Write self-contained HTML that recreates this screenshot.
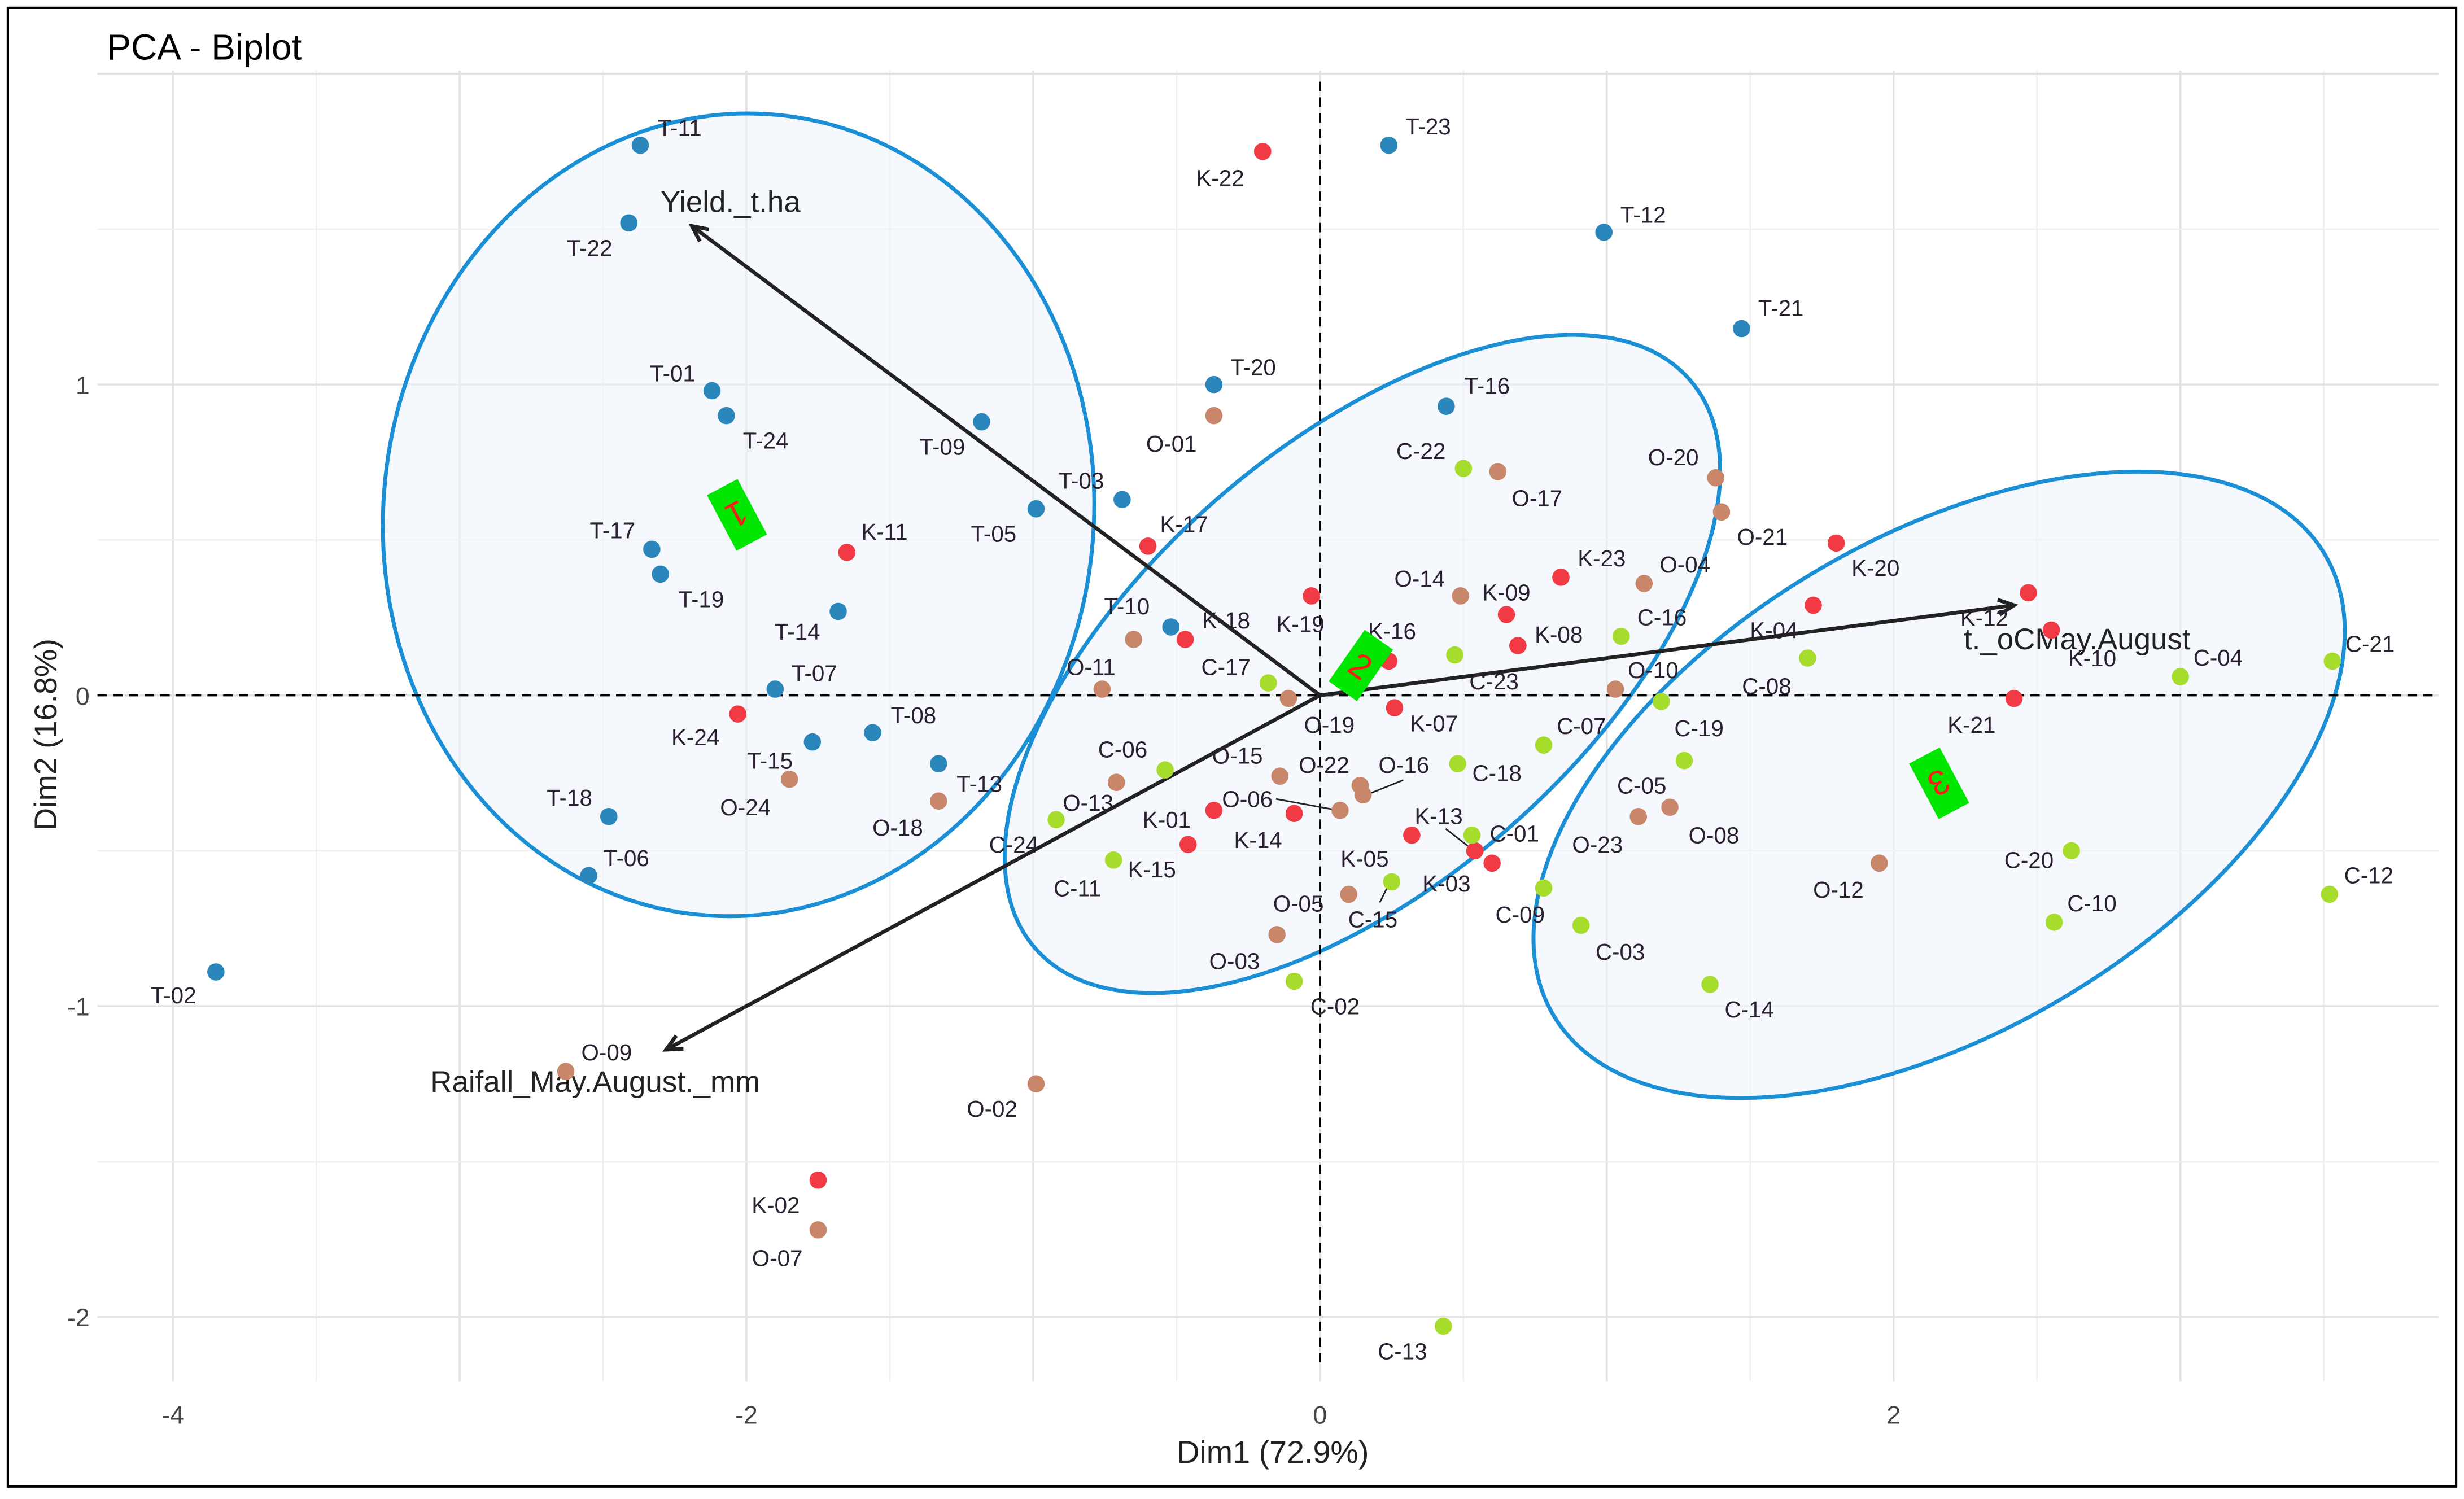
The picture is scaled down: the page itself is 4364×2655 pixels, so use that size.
<!DOCTYPE html>
<html><head><meta charset="utf-8"><style>
html,body{margin:0;padding:0;background:#fff;}
svg{display:block;}
text{font-family:"Liberation Sans",sans-serif;}
</style></head><body>
<svg id="chart" xmlns="http://www.w3.org/2000/svg" width="4364" height="2655" viewBox="0 0 1568 955" preserveAspectRatio="none">
<rect x="0" y="0" width="1568" height="955" fill="#fff"/>
<rect x="5" y="5" width="1558" height="942" fill="none" stroke="#000" stroke-width="1.5"/>
<g id="grid"></g>
<g id="ellipses"></g>
<g id="zero"></g>
<g id="arrows"></g>
<g id="points"></g>
<g id="boxes"></g>
<g id="axes"></g>
<text x="68" y="38" font-size="23" fill="#000">PCA - Biplot</text>
<text x="810" y="932" font-size="20" text-anchor="middle" fill="#222">Dim1 (72.9%)</text>
<text transform="translate(36,468) rotate(-90)" font-size="20" text-anchor="middle" fill="#222">Dim2 (16.8%)</text>
</svg>
<script>
const NS="http://www.w3.org/2000/svg";
// data
const tLabels=["T-11","T-22","T-01","T-24","T-09","T-03","T-05","T-17","T-19","T-14","T-07","T-08","T-15","T-13","T-18","T-06","T-02","T-20","T-23","T-12","T-21","T-16","T-10"];
const tX=[-2.37,-2.41,-2.12,-2.07,-1.18,-0.69,-0.99,-2.33,-2.30,-1.68,-1.90,-1.56,-1.77,-1.33,-2.48,-2.55,-3.85,-0.37,0.24,0.99,1.47,0.44,-0.52];
const tY=[1.77,1.52,0.98,0.90,0.88,0.63,0.60,0.47,0.39,0.27,0.02,-0.12,-0.15,-0.22,-0.39,-0.58,-0.89,1.00,1.77,1.49,1.18,0.93,0.22];
const kLabels=["K-22","K-11","K-17","K-24","K-18","K-19","K-16","K-07","K-09","K-08","K-23","K-20","K-04","K-12","K-10","K-21","K-13","K-03","K-05","K-14","K-01","K-15","K-02"];
const kX=[-0.20,-1.65,-0.60,-2.03,-0.47,-0.03,0.24,0.26,0.65,0.69,0.84,1.80,1.72,2.47,2.55,2.42,0.54,0.60,0.32,-0.09,-0.37,-0.46,-1.75];
const kY=[1.75,0.46,0.48,-0.06,0.18,0.32,0.11,-0.04,0.26,0.16,0.38,0.49,0.29,0.33,0.21,-0.01,-0.50,-0.54,-0.45,-0.38,-0.37,-0.48,-1.56];
const oLabels=["O-01","O-17","O-20","O-21","O-14","O-04","O-10","O-11","O-15","O-19","O-22","O-16","O-06","O-24","O-18","O-23","O-08","O-05","O-03","O-12","O-09","O-02","O-07","O-13",""];
const oX=[-0.37,0.62,1.38,1.40,0.49,1.13,1.03,-0.76,-0.14,-0.11,0.14,0.15,0.07,-1.85,-1.33,1.11,1.22,0.10,-0.15,1.95,-2.63,-0.99,-1.75,-0.71,-0.65];
const oY=[0.90,0.72,0.70,0.59,0.32,0.36,0.02,0.02,-0.26,-0.01,-0.29,-0.32,-0.37,-0.27,-0.34,-0.39,-0.36,-0.64,-0.77,-0.54,-1.21,-1.25,-1.72,-0.28,0.18];
const cLabels=["C-22","C-17","C-16","C-23","C-07","C-18","C-19","C-08","C-06","C-24","C-11","C-01","C-15","C-05","C-09","C-03","C-14","C-02","C-20","C-10","C-04","C-21","C-12","C-13"];
const cX=[0.50,-0.18,1.05,0.47,0.78,0.48,1.19,1.70,-0.54,-0.92,-0.72,0.53,0.25,1.27,0.78,0.91,1.36,-0.09,2.62,2.56,3.00,3.53,3.52,0.43];
const cY=[0.73,0.04,0.19,0.13,-0.16,-0.22,-0.02,0.12,-0.24,-0.40,-0.53,-0.45,-0.60,-0.21,-0.62,-0.74,-0.93,-0.92,-0.50,-0.73,0.06,0.11,-0.64,-2.03];
const varNames=["Yield._t.ha","Raifall_May.August._mm","t._oCMay.August"];
const varX=[-2.19,-2.28,2.42];
const varY=[1.51,-1.14,0.29];
const xTicks=[-4,-2,0,2];
const yTicks=[1,0,-1,-2];
// label offsets (styling, px)
const tOff=[[25,-11],[-25,16],[-25,-11],[25,16],[-25,16],[-26,-12],[-27,16],[-25,-12],[26,16],[-26,13],[25,-10],[26,-11],[-27,12],[26,13],[-25,-12],[24,-11],[-27,15],[25,-11],[25,-12],[25,-11],[25,-13],[26,-13],[-28,-13]];
const kOff=[[-27,17],[24,-13],[23,-14],[-27,15],[26,-12],[-7,18],[2,-19],[25,10],[0,-14],[26,-7],[26,-12],[25,16],[-25,16],[-28,16],[26,18],[-27,17],[-23,-22],[-29,13],[-30,15],[-23,17],[-30,6],[-23,16],[-27,16]];
const oOff=[[-27,18],[25,17],[-27,-13],[26,16],[-26,-11],[26,-12],[24,-12],[-7,-14],[-27,-13],[26,17],[-23,-13],[26,-19],[-59,-7],[-28,18],[-26,17],[-26,18],[28,18],[-32,6],[-27,17],[-26,17],[26,-12],[-28,16],[-26,18],[-18,13],[0,0]];
const cOff=[[-27,-11],[-27,-10],[26,-12],[25,17],[24,-12],[25,6],[24,17],[-26,18],[-27,-13],[-27,16],[-23,18],[27,-1],[-12,24],[-27,16],[-15,17],[25,17],[25,16],[26,16],[-27,6],[24,-12],[24,-12],[24,-11],[25,-12],[-26,16]];

const X0=840, XS=182.5, Y0=443, YS=198;
const sx=v=>X0+v*XS, sy=v=>Y0-v*YS;
const L=62, R=1552, T=45, B=880;
function mk(tag,attrs,parent){const e=document.createElementNS(NS,tag);for(const k in attrs)e.setAttribute(k,attrs[k]);parent.appendChild(e);return e;}
const g=id=>document.getElementById(id);

// grid
for(let v=-4;v<=3.5;v+=0.5){if(sx(v)<L||sx(v)>R)continue;const major=Number.isInteger(v);
 const ln=mk("line",{x1:sx(v),x2:sx(v),y1:T,y2:B,stroke:major?"#e2e2e2":"#efefef","stroke-width":major?1.3:0.9},g("grid"));
 
 }
for(let v=-2;v<=2;v+=0.5){if(sy(v)<T||sy(v)>B)continue;const major=Number.isInteger(v);
 const ln=mk("line",{x1:L,x2:R,y1:sy(v),y2:sy(v),stroke:major?"#e2e2e2":"#efefef","stroke-width":major?1.3:0.9},g("grid"));
 
 }

// ellipses
const ells=[[470,328,226,256,6,"cluster-1-ellipse"],[867,423,276,140,-41,"cluster-2-ellipse"],[1234,500,286,157,-31,"cluster-3-ellipse"]];
ells.forEach(e=>{const el=mk("ellipse",{cx:e[0],cy:e[1],rx:e[2],ry:e[3],transform:`rotate(${e[4]} ${e[0]} ${e[1]})`,fill:"#eef4fa","fill-opacity":0.6,stroke:"#1a8fd6","stroke-width":2.5},g("ellipses"));
 
 });

// zero lines
let z=mk("line",{x1:L,x2:R,y1:sy(0),y2:sy(0),stroke:"#000","stroke-width":1.3,"stroke-dasharray":"6,4"},g("zero"));


z=mk("line",{x1:sx(0),x2:sx(0),y1:52,y2:870,stroke:"#000","stroke-width":1.3,"stroke-dasharray":"6,4"},g("zero"));



// arrows
const ag=g("arrows");
varNames.forEach((n,i)=>{const x2=sx(varX[i]),y2=sy(varY[i]);
 const ln=mk("line",{x1:sx(0),y1:sy(0),x2:x2,y2:y2,stroke:"#222","stroke-width":2.4},ag);
 
 
 const a=Math.atan2(y2-sy(0),x2-sx(0));const h=11;
 const p=`M${x2-h*Math.cos(a-0.45)},${y2-h*Math.sin(a-0.45)} L${x2},${y2} L${x2-h*Math.cos(a+0.45)},${y2-h*Math.sin(a+0.45)}`;
 const hd=mk("path",{d:p,fill:"none",stroke:"#222","stroke-width":2.4},ag);
 
 
 const off=[[-20,-9],[-150,27],[-32,28]][i];
 const t=mk("text",{x:x2+off[0],y:y2+off[1],"font-size":19,fill:"#222"},ag);t.textContent=n;
 
 });

// leader lines
[[812,509,850,516],[920,528,938,542],[878,575,885,561],[893,497,868,507]].forEach(l=>{const ln=mk("line",{x1:l[0],y1:l[1],x2:l[2],y2:l[3],stroke:"#222","stroke-width":1},g("points"));
 
 });

// points
function series(labels,xs,ys,offs,color,name){
 labels.forEach((lab,i)=>{const px=sx(xs[i]),py=sy(ys[i]);
  const c=mk("circle",{cx:px,cy:py,r:5.5,fill:color},g("points"));
  
  
  if(lab){const t=mk("text",{x:px+offs[i][0],y:py+offs[i][1]+5,"font-size":14.5,"text-anchor":"middle",fill:"#2a2030"},g("points"));t.textContent=lab;
  
  }
 });}
series(tLabels,tX,tY,tOff,"#2a86bb","t-group");
series(kLabels,kX,kY,kOff,"#f23a45","k-group");
series(oLabels,oX,oY,oOff,"#c8866a","o-group");
series(cLabels,cX,cY,cOff,"#a6dc2c","c-group");

// cluster number boxes
[[469,328,62,"1"],[866,424,-55,"2"],[1234,499,62,"3"]].forEach(b=>{
 const gg=mk("g",{transform:`translate(${b[0]},${b[1]}) rotate(${b[2]})`},g("boxes"));
 
 
 mk("rect",{x:-20,y:-11,width:40,height:22,fill:"#00e600"},gg);
 const t=mk("text",{x:0,y:8,"font-size":22,"text-anchor":"middle",fill:"#ff1a1a",transform:"rotate(90)"},gg);t.textContent=b[3];
});

// ticks
xTicks.forEach(v=>{const t=mk("text",{x:sx(v),y:907,"font-size":16,"text-anchor":"middle",fill:"#444"},g("axes"));t.textContent=v;
 
 });
yTicks.forEach(v=>{const t=mk("text",{x:57,y:sy(v)+6,"font-size":16,"text-anchor":"end",fill:"#444"},g("axes"));t.textContent=v;
 
 });
</script>
</body></html>
